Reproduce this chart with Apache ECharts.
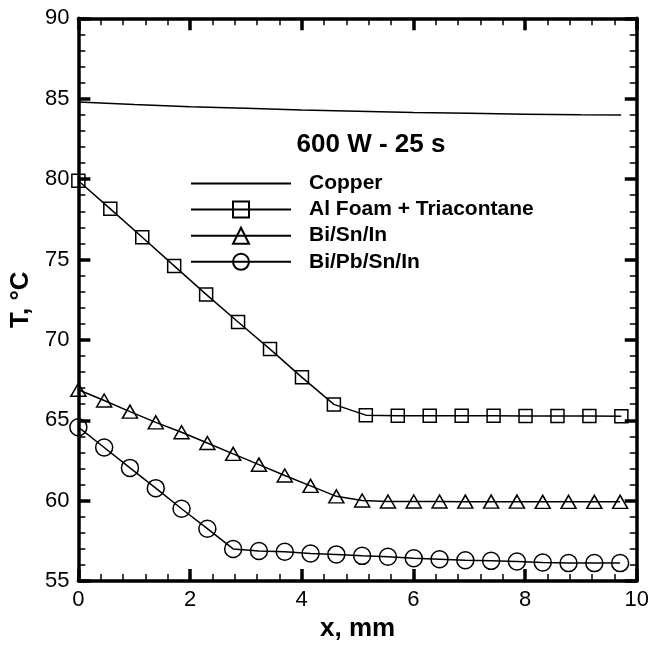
<!DOCTYPE html>
<html>
<head>
<meta charset="utf-8">
<script src="https://cdn.jsdelivr.net/npm/echarts@6/dist/echarts.min.js"></script>
<style>
html,body{margin:0;padding:0;background:#fff;}
#chart{width:652px;height:647px;}
</style>
</head>
<body>
<div id="chart"></div>
<script>
// ---- data ----
const seriesNames = ['Copper', 'Al Foam + Triacontane', 'Bi/Sn/In', 'Bi/Pb/Sn/In'];
const chartTitle = '600 W - 25 s';
const xAxisTitle = 'x, mm';
const yAxisTitle = 'T, °C';

const xCopper = [0, 1, 2, 3, 4, 5, 6, 7, 8, 9, 9.72];
const tCopper = [84.79, 84.64, 84.5, 84.4, 84.3, 84.22, 84.14, 84.09, 84.04, 84.0, 83.98];

const xFoam = [0, 0.572, 1.144, 1.716, 2.288, 2.86, 3.432, 4.004, 4.576, 5.148, 5.72, 6.292, 6.864, 7.436, 8.008, 8.58, 9.152, 9.724];
const tFoam = [79.9, 78.15, 76.38, 74.6, 72.83, 71.11, 69.43, 67.67, 65.99, 65.32, 65.29, 65.28, 65.28, 65.28, 65.27, 65.26, 65.26, 65.25];

const xAlloy = [0, 0.462, 0.924, 1.386, 1.848, 2.31, 2.772, 3.234, 3.696, 4.158, 4.62, 5.082, 5.544, 6.006, 6.468, 6.93, 7.392, 7.854, 8.316, 8.778, 9.24, 9.702];
const tBiSnIn = [66.9, 66.23, 65.54, 64.87, 64.26, 63.59, 62.91, 62.24, 61.57, 60.92, 60.27, 60.01, 59.95, 59.95, 59.95, 59.94, 59.94, 59.94, 59.93, 59.93, 59.93, 59.93];
const tBiPbSnIn = [64.57, 63.31, 62.04, 60.78, 59.5, 58.26, 57.0, 56.87, 56.83, 56.72, 56.66, 56.57, 56.51, 56.42, 56.36, 56.3, 56.26, 56.22, 56.16, 56.12, 56.12, 56.12];

const xMin = 0, xMax = 10, xStep = 2;
const yMin = 55, yMax = 90, yStep = 5;

// ---- chart ----
const FONT = "'Liberation Sans', Arial, Helvetica, sans-serif";
const zip = (xs, ys) => xs.map((x, i) => [x, ys[i]]);

function axisBase(extra) {
  return Object.assign({
    type: 'value',
    axisLine: { show: true, onZero: false, lineStyle: { color: '#000', width: 3.5 } },
    axisTick: { show: true, inside: true, length: 12, lineStyle: { color: '#000', width: 3.5 } },
    minorTick: { show: true, splitNumber: 5, length: 7, lineStyle: { color: '#000', width: 1.5 } },
    splitLine: { show: false },
    minorSplitLine: { show: false },
    axisLabel: { show: true, color: '#000', fontFamily: FONT, fontSize: 22 }
  }, extra);
}

const markerStyle = { color: 'rgba(255,255,255,0)', borderColor: '#000', borderWidth: 1.5 };
const lineSt = { color: '#000', width: 1.5 };

const option = {
  backgroundColor: '#fff',
  animation: false,
  title: {
    text: chartTitle,
    left: 366, top: 127, textAlign: 'center',
    textStyle: { fontFamily: FONT, fontSize: 26, fontWeight: 'bold', color: '#000' }
  },
  legend: {
    orient: 'vertical',
    left: 185, top: 168,
    itemWidth: 100, itemHeight: 20, itemGap: 5.1,
    selectedMode: false,
    data: [
      { name: seriesNames[0], itemStyle: { color: 'rgba(0,0,0,0)', borderColor: 'rgba(0,0,0,0)', borderWidth: 0 } },
      { name: seriesNames[1] },
      { name: seriesNames[2] },
      { name: seriesNames[3] }
    ],
    textStyle: { fontFamily: FONT, fontSize: 21, fontWeight: 'bold', color: '#000', padding: [0, 0, 0, 13] }
  },
  grid: { left: 78, right: 13.5, top: 18.3, bottom: 53, containLabel: false },
  xAxis: [
    axisBase({ position: 'bottom', min: xMin, max: xMax, interval: xStep,
      name: xAxisTitle, nameLocation: 'middle', nameGap: 27,
      nameTextStyle: { fontFamily: FONT, fontSize: 26, fontWeight: 'bold', color: '#000', verticalAlign: 'top' },
      axisLabel: { show: true, color: '#000', fontFamily: FONT, fontSize: 22, margin: 8 } }),
    axisBase({ position: 'top', min: xMin, max: xMax, interval: xStep, axisLabel: { show: false } })
  ],
  yAxis: [
    axisBase({ position: 'left', min: yMin, max: yMax, interval: yStep,
      name: yAxisTitle, nameLocation: 'middle', nameGap: 40, nameRotate: 90,
      nameTextStyle: { fontFamily: FONT, fontSize: 26, fontWeight: 'bold', color: '#000' },
      axisLabel: { show: true, color: '#000', fontFamily: FONT, fontSize: 22, margin: 9 } }),
    axisBase({ position: 'right', min: yMin, max: yMax, interval: yStep, axisLabel: { show: false } })
  ],
  series: [
    { name: seriesNames[0], type: 'line', data: zip(xCopper, tCopper), symbol: 'none',
      lineStyle: lineSt, itemStyle: { color: '#000' } },
    { name: seriesNames[1], type: 'line', data: zip(xFoam, tFoam), symbol: 'rect', symbolSize: 13,
      lineStyle: lineSt, itemStyle: markerStyle },
    { name: seriesNames[2], type: 'line', data: zip(xAlloy, tBiSnIn), symbol: 'triangle', symbolSize: [15, 13],
      lineStyle: lineSt, itemStyle: markerStyle },
    { name: seriesNames[3], type: 'line', data: zip(xAlloy, tBiPbSnIn), symbol: 'circle', symbolSize: 17,
      lineStyle: lineSt, itemStyle: markerStyle }
  ]
};

const chart = echarts.init(document.getElementById('chart'), null, { renderer: 'canvas' });
chart.setOption(option);
</script>
</body>
</html>
